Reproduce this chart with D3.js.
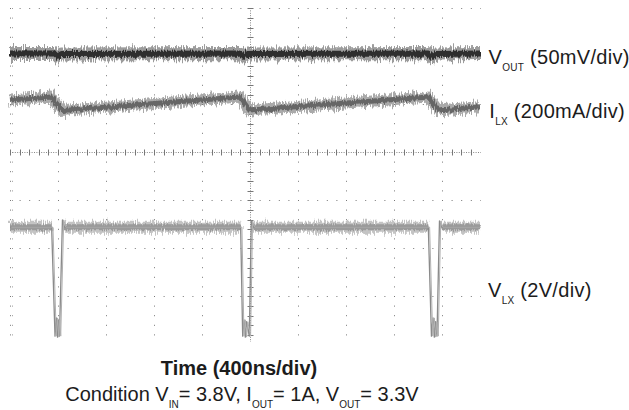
<!DOCTYPE html>
<html><head><meta charset="utf-8">
<script src="https://cdn.jsdelivr.net/npm/d3@7"></script>
<style>
html,body{margin:0;padding:0;background:#fff;}
svg{display:block;}
text{font-family:"Liberation Sans",Arial,sans-serif;fill:#1c1c1c;}
</style></head><body>
<svg id="chart" width="629" height="410"></svg>
<script>
// ---- data (time in ns, 400 ns/div; vertical position in screen divisions, 0 = centre line) ----
const timeTicks = [0, 400, 800, 1200, 1600, 2000, 2400, 2800, 3200, 3600];
const divTicks = [3, 2, 1, 0, -1, -2, -3];
const timeCentre = 2000;
const divCentre = 0;

const voutTime = [0, 365, 395, 430, 1910, 1942, 1975, 3485, 3517, 3550, 3917];
const voutDiv  = [2.06, 2.06, 1.99, 2.05, 2.06, 1.99, 2.05, 2.06, 1.99, 2.05, 2.06];

const ilxTime = [0, 345, 435, 1915, 1995, 3490, 3565, 3917];
const ilxDiv  = [1.09, 1.15, 0.87, 1.15, 0.88, 1.15, 0.88, 0.95];

const vlxHigh = -1.56;
const vlxTime = [0, 347, 375, 386, 396, 404, 412, 437, 454,
                 1922, 1939, 1950, 1961, 1971, 1994, 2011, 2028,
                 3486, 3512, 3525, 3536, 3546, 3558, 3579, 3596, 3917];
const vlxDiv  = [-1.56, -1.56, -3.83, -3.45, -3.85, -3.49, -3.83, -1.41, -1.56,
                 -1.56, -3.83, -3.49, -3.85, -3.53, -3.83, -1.43, -1.56,
                 -1.56, -3.83, -3.45, -3.85, -3.53, -3.83, -1.43, -1.56, -1.56];

const labels = [
  {x: 488.5, y: 63.5, parts: [["V", 0], ["OUT", 1], [" (50mV/div)", 0]]},
  {x: 489.3, y: 118, parts: [["I", 0], ["LX", 1], [" (200mA/div)", 0]]},
  {x: 488, y: 296.5, parts: [["V", 0], ["LX", 1], [" (2V/div)", 0]]}
];
const xTitle = "Time (400ns/div)";
const condition = [["Condition V", 0], ["IN", 1], ["= 3.8V, I", 0], ["OUT", 1], ["= 1A, V", 0], ["OUT", 1], ["= 3.3V", 0]];

// ---- scales ----
const svg = d3.select("#chart");
const x = d3.scaleLinear().domain([0, 4000]).range([10, 490]);
const y = d3.scaleLinear().domain([3, -4]).range([8.3, 344.3]);
const pLeft = 10, pRight = 481, pTop = 8, pBottom = 342;

const defs = svg.append("defs");
defs.append("clipPath").attr("id", "plot").append("rect")
  .attr("x", pLeft - 2).attr("y", 0).attr("width", pRight - pLeft + 2).attr("height", pBottom);

function mkFilter(id, freq, scale, seed) {
  const f = defs.append("filter").attr("id", id).attr("filterUnits", "userSpaceOnUse")
    .attr("x", 0).attr("y", 0).attr("width", 629).attr("height", 410);
  f.append("feTurbulence").attr("type", "fractalNoise").attr("baseFrequency", freq)
    .attr("numOctaves", 2).attr("seed", seed).attr("result", "n");
  f.append("feDisplacementMap").attr("in", "SourceGraphic").attr("in2", "n")
    .attr("scale", scale).attr("xChannelSelector", "G").attr("yChannelSelector", "R");
}
mkFilter("fuzz", "0.9 0.04", 12, 3);
mkFilter("fuzz2", "0.9 0.04", 6, 7);

// ---- grid ----
const grid = svg.append("g");
const px = v => Math.round(v) + 0.5;
timeTicks.filter(t => t !== timeCentre).forEach(t => {
  grid.append("line").attr("x1", px(x(t))).attr("x2", px(x(t)))
    .attr("y1", pTop).attr("y2", pBottom)
    .attr("stroke", "#777").attr("stroke-dasharray", "1 8.6");
});
grid.append("line").attr("x1", px(x(0)) + 2).attr("x2", px(x(0)) + 2)
  .attr("y1", pTop).attr("y2", pBottom).attr("stroke", "#999").attr("stroke-dasharray", "1 8.6");
divTicks.filter(d => d !== divCentre).forEach(d => {
  grid.append("line").attr("y1", px(y(d))).attr("y2", px(y(d)))
    .attr("x1", pLeft).attr("x2", pRight)
    .attr("stroke", "#777").attr("stroke-dasharray", "1 8.6");
});
const cy = px(y(divCentre)), cx = px(x(timeCentre));
grid.append("line").attr("x1", pLeft).attr("x2", pRight).attr("y1", cy).attr("y2", cy)
  .attr("stroke", "#888").attr("stroke-dasharray", "1 1.4");
grid.append("line").attr("x1", cx).attr("x2", cx).attr("y1", pTop).attr("y2", pBottom)
  .attr("stroke", "#888").attr("stroke-dasharray", "1 1.4");
d3.range(0, 3920, 80).forEach(t => {
  const xx = px(x(t));
  grid.append("line").attr("x1", xx).attr("x2", xx).attr("y1", cy - 3).attr("y2", cy + 3)
    .attr("stroke", "#777");
});
d3.range(3, -4.01, -0.2).forEach(d => {
  const yy = px(y(d));
  if (yy > pBottom) return;
  grid.append("line").attr("y1", yy).attr("y2", yy).attr("x1", cx - 3).attr("x2", cx + 3)
    .attr("stroke", "#777");
});

// ---- traces ----
const traces = svg.append("g").attr("clip-path", "url(#plot)");
const line = d3.line().x(d => x(d[0])).y(d => y(d[1]));
const zip = (a, b) => a.map((v, i) => [v, b[i]]);

const vout = zip(voutTime, voutDiv);
const ilx = zip(ilxTime, ilxDiv);
const vlx = zip(vlxTime, vlxDiv);

const flatLine = d3.line().defined(d => Math.abs(d[1] - vlxHigh) < 0.02)
  .x(d => x(d[0])).y(d => y(d[1]));
traces.append("path").attr("d", flatLine(vlx)).attr("fill", "none")
  .attr("stroke", "#c4c4c4").attr("stroke-width", 11).attr("filter", "url(#fuzz)");
traces.append("path").attr("d", flatLine(vlx)).attr("fill", "none")
  .attr("stroke", "#9a9a9a").attr("stroke-width", 6).attr("filter", "url(#fuzz2)");
traces.append("path").attr("d", line(vlx)).attr("fill", "none")
  .attr("stroke", "#8a8a8a").attr("stroke-width", 1.3).attr("stroke-linejoin", "round");
traces.append("path").attr("d", line(vlx)).attr("fill", "none")
  .attr("stroke", "#b0b0b0").attr("stroke-width", 1).attr("transform", "translate(1.3,0)");

traces.append("path").attr("d", line(ilx)).attr("fill", "none")
  .attr("stroke", "#aaaaaa").attr("stroke-width", 11).attr("stroke-linejoin", "round")
  .attr("filter", "url(#fuzz)");
traces.append("path").attr("d", line(ilx)).attr("fill", "none")
  .attr("stroke", "#666").attr("stroke-width", 5).attr("stroke-linejoin", "round")
  .attr("filter", "url(#fuzz2)");

traces.append("path").attr("d", line(vout)).attr("fill", "none")
  .attr("stroke", "#9c9c9c").attr("stroke-width", 13).attr("stroke-linejoin", "round")
  .attr("filter", "url(#fuzz)");
traces.append("path").attr("d", line(vout)).attr("fill", "none")
  .attr("stroke", "#2e2e2e").attr("stroke-width", 6).attr("stroke-linejoin", "round")
  .attr("filter", "url(#fuzz2)");

// ---- text ----
function richText(xp, yp, parts, opts) {
  const t = svg.append("text").attr("x", xp).attr("y", yp)
    .attr("font-size", 20).attr("letter-spacing", opts.ls || 0)
    .attr("text-anchor", opts.anchor || "start")
    .attr("font-weight", opts.weight || "normal");
  let shifted = false;
  parts.forEach(([s, sub]) => {
    const ts = t.append("tspan").text(s);
    if (sub && !shifted) { ts.attr("dy", 7).attr("font-size", 10); shifted = true; }
    else if (sub) { ts.attr("font-size", 10); }
    else if (shifted) { ts.attr("dy", -7); shifted = false; }
  });
  return t;
}
labels.forEach(l => richText(l.x, l.y, l.parts, {ls: 0.3}));
svg.append("text").attr("x", 239).attr("y", 375).attr("text-anchor", "middle")
  .attr("font-size", 20).attr("font-weight", "bold").attr("fill", "#111").text(xTitle);
richText(242, 401, condition, {anchor: "middle"});
</script>
</body></html>
